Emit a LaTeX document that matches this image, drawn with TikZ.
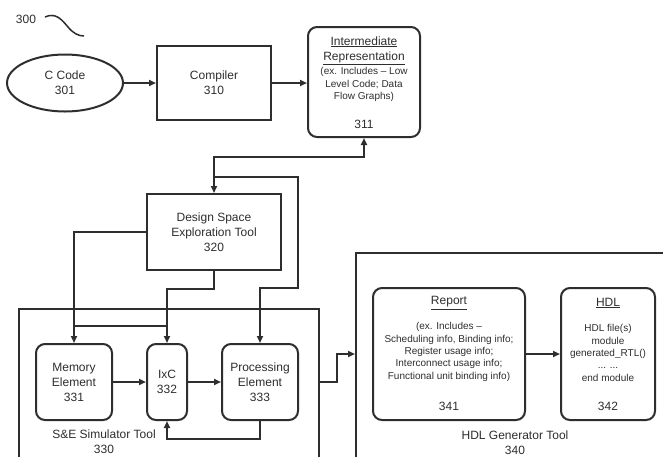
\documentclass[tikz,border=0pt]{standalone}
\usepackage{fontspec}
\setmainfont{Liberation Sans}
\usetikzlibrary{arrows.meta,shapes.geometric,calc}
\definecolor{ink}{HTML}{2E2E2E}
\begin{document}
\begin{tikzpicture}[x=1pt,y=-1pt,
  every node/.style={font=\fontsize{12}{15}\selectfont, text=ink, inner sep=0pt},
  box/.style={draw=ink, line width=2pt},
  rbox/.style={box, rounded corners=9pt},
  arr/.style={draw=ink, line width=2pt, -{Triangle[length=7pt,width=6pt]}},
  both/.style={draw=ink, line width=2pt, {Triangle[length=7pt,width=6pt]}-{Triangle[length=7pt,width=6pt]}},
  ln/.style={draw=ink, line width=2pt},
  small/.style={font=\fontsize{10}{12.4}\selectfont}]
\useasboundingbox (0,0) rectangle (663,456);
\clip (0,0) rectangle (663,456);
\fill[white] (0,0) rectangle (663,456);

% figure label
\node (fig) at (26,19) {300};
\coordinate (s0) at (45,17);
\coordinate (s1) at (84,36);
\draw[ln, line width=1.5pt] (s0) .. controls (56,12) and (62,20) .. (68,27) .. controls (73,33) and (78,36) .. (s1);

% top row
\node[box, ellipse, minimum width=116pt, minimum height=57pt, align=center] (ccode) at (65,83) {C Code\\301};
\node[box, minimum width=114pt, minimum height=74pt, align=center] (compiler) at (214,83) {Compiler\\310};
\node[rbox, minimum width=112pt, minimum height=110pt] (ir) at (364,82) {};
\node[align=center] (irtitle) at (364,50.5) {\underline{Intermediate}\\\underline{Representation}};
\node[small, align=center] (irtext) at (364,84.5) {(ex. Includes – Low\\Level Code; Data\\Flow Graphs)};
\node (irnum) at (364,124) {311};

% DSE
\node[box, minimum width=134pt, minimum height=76pt, align=center] (dse) at (214,232) {Design Space\\Exploration Tool\\320};

% simulator
\node[box, minimum width=300pt, minimum height=200pt, anchor=north west] (sim) at (18,308) {};
\node[rbox, minimum width=76pt, minimum height=76pt, align=center] (mem) at (74,382) {Memory\\Element\\331};
\node[rbox, minimum width=40pt, minimum height=76pt, align=center] (ixc) at (167,382) {IxC\\332};
\node[rbox, minimum width=76pt, minimum height=76pt, align=center] (pe) at (260,382) {Processing\\Element\\333};
\node[align=center] (simlbl) at (104,442) {S\&E Simulator Tool\\330};

% HDL generator
\node[box, minimum width=330pt, minimum height=230pt, anchor=north west] (gen) at (355,252) {};
\node[rbox, minimum width=152pt, minimum height=132pt] (rep) at (449,354) {};
\node (reptitle) at (449,303) {\underline{Report}};
\node[small, align=center] (reptext) at (449,352) {(ex. Includes –\\Scheduling info, Binding info;\\Register usage info;\\Interconnect usage info;\\Functional unit binding info)};
\node (repnum) at (449,406) {341};
\node[rbox, minimum width=94pt, minimum height=132pt] (hdl) at (608,354) {};
\node (hdltitle) at (608,303) {\underline{HDL}};
\node[small, align=center] (hdltext) at (608,353) {HDL file(s)\\module\\generated\_RTL()\\... ...\\end module};
\node (hdlnum) at (608,406) {342};
\node[align=center] (genlbl) at (515,443) {HDL Generator Tool\\340};

% connectors
\draw[arr] (ccode.east) -- (ccode.east -| compiler.west);
\draw[arr] (compiler.east) -- (compiler.east -| ir.west);
\draw[both] (dse.north) -- ++(0,-36) -| (ir.south);
\coordinate (j1) at (214,177);
\coordinate (r1) at (298,288);
\draw[arr] (j1) -| (r1) -| (pe.north);
\draw[arr] (dse.south) -- ++(0,18) -| (ixc.north);
\draw[arr] (dse.west) -| (mem.north);
\coordinate (j2) at (74,326);
\coordinate (j3) at (167,326);
\draw[ln] (j2) -- (j3);
\draw[arr] (mem) -- (ixc);
\draw[arr] (ixc) -- (pe);
\draw[arr] (pe.south) -- ++(0,18) -| (ixc.south);
\draw[arr] (rep) -- (hdl);
\draw[arr] ($(sim.north east)+(0,74)$) -- ++(17,0) |- ($(gen.north west)+(0,102)$);
\end{tikzpicture}
\end{document}
